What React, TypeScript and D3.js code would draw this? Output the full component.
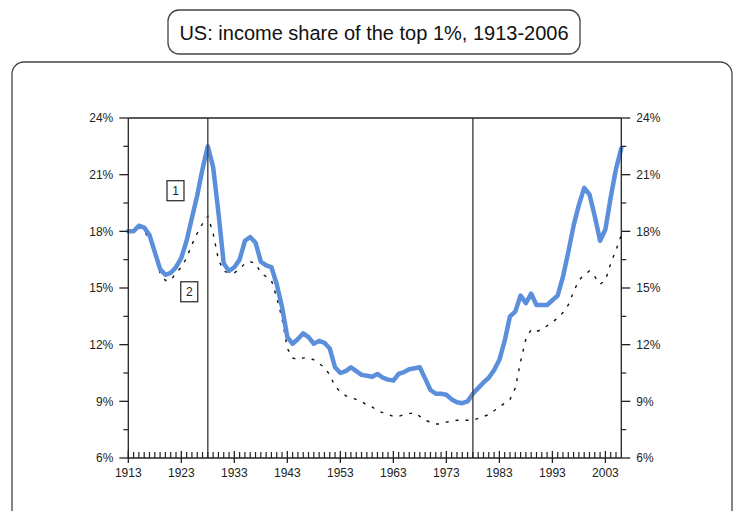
import React from "react";
import * as d3 from "d3";

const years: number[] = [
  1913, 1914, 1915, 1916, 1917, 1918, 1919, 1920, 1921, 1922,
  1923, 1924, 1925, 1926, 1927, 1928, 1929, 1930, 1931, 1932,
  1933, 1934, 1935, 1936, 1937, 1938, 1939, 1940, 1941, 1942,
  1943, 1944, 1945, 1946, 1947, 1948, 1949, 1950, 1951, 1952,
  1953, 1954, 1955, 1956, 1957, 1958, 1959, 1960, 1961, 1962,
  1963, 1964, 1965, 1966, 1967, 1968, 1969, 1970, 1971, 1972,
  1973, 1974, 1975, 1976, 1977, 1978, 1979, 1980, 1981, 1982,
  1983, 1984, 1985, 1986, 1987, 1988, 1989, 1990, 1991, 1992,
  1993, 1994, 1995, 1996, 1997, 1998, 1999, 2000, 2001, 2002,
  2003, 2004, 2005, 2006,
];

// Series 1: top 1% share including capital gains (%)
const shareInclGains: number[] = [
  18.0, 18.0, 18.3, 18.2, 17.8, 16.9, 16.0, 15.7, 15.8, 16.1,
  16.6, 17.5, 18.7, 19.9, 21.3, 22.5, 21.4, 19.0, 16.3, 15.9,
  16.1, 16.5, 17.5, 17.7, 17.4, 16.4, 16.2, 16.1, 15.2, 14.0,
  12.4, 12.05, 12.3, 12.6, 12.4, 12.05, 12.2, 12.1, 11.8, 10.8,
  10.5, 10.6, 10.8, 10.6, 10.4, 10.35, 10.3, 10.45, 10.25, 10.15,
  10.1, 10.45, 10.55, 10.7, 10.75, 10.8, 10.2, 9.6, 9.4, 9.4,
  9.35, 9.1, 8.95, 8.9, 9.0, 9.4, 9.7, 10.0, 10.25, 10.65,
  11.2, 12.2, 13.5, 13.75, 14.6, 14.2, 14.7, 14.1, 14.1, 14.1,
  14.35, 14.6, 15.6, 16.9, 18.3, 19.4, 20.3, 19.95, 18.8, 17.5,
  18.1, 19.8, 21.3, 22.4,
];

// Series 2: top 1% share excluding capital gains (%)
const shareExclGains: number[] = [
  18.0, 18.1, 18.2, 18.0, 17.6, 16.8, 15.8, 15.4, 15.4, 15.8,
  16.1, 16.6, 17.3, 17.9, 18.4, 18.8, 17.9, 16.5, 15.9, 15.8,
  15.8, 16.0, 16.3, 16.4, 16.3, 15.8, 15.6, 15.4, 14.5, 13.4,
  11.8, 11.3, 11.2, 11.3, 11.3, 11.2, 11.0, 10.8, 10.4, 9.8,
  9.5, 9.3, 9.2, 9.1, 9.0, 8.8, 8.7, 8.5, 8.4, 8.3,
  8.2, 8.2, 8.3, 8.35, 8.4, 8.2, 8.0, 7.9, 7.8, 7.8,
  7.9, 7.95, 8.0, 8.0, 8.0, 8.0, 8.1, 8.2, 8.3, 8.5,
  8.7, 8.9, 9.1, 9.7, 11.1, 12.3, 12.8, 12.7, 12.8, 13.0,
  13.2, 13.4, 13.7, 14.1, 14.8, 15.4, 15.7, 15.9, 15.6, 15.2,
  15.4, 16.3, 17.0, 17.8,
];

const titleText = "US: income share of the top 1%, 1913-2006";
const yMajorTicks: number[] = [6, 9, 12, 15, 18, 21, 24];
const yMinorTicks: number[] = [7.5, 10.5, 13.5, 16.5, 19.5, 22.5];
const xMajorTicks: number[] = [1913, 1923, 1933, 1943, 1953, 1963, 1973, 1983, 1993, 2003];
const markerYears: number[] = [1928, 1978];
const seriesLabels = [
  { text: "1", year: 1921.9, value: 20.15 },
  { text: "2", year: 1924.5, value: 14.8 },
];

const W = 735;
const H = 511;
const FONT = "'Liberation Sans', Arial, Helvetica, sans-serif";

export default function App() {
  const x = d3.scaleLinear().domain([1913, 2006]).range([128.3, 621.3]);
  const y = d3.scaleLinear().domain([6, 24]).range([458, 118]);
  const [x0, x1] = x.range();
  const yTop = y(24);
  const yBot = y(6);

  const line1 = d3
    .line<number>()
    .x((_, i) => x(years[i]))
    .y((d) => y(d))
    .curve(d3.curveLinear)(shareInclGains) as string;
  const line2 = d3
    .line<number>()
    .x((_, i) => x(years[i]))
    .y((d) => y(d))
    .curve(d3.curveLinear)(shareExclGains) as string;

  const axisColor = "#222";
  const major = 9;
  const minor = 5;

  return (
    <svg
      width={W}
      height={H}
      style={{ position: "absolute", left: 0, top: 0, background: "#fff" }}
      fontFamily={FONT}
    >
      {/* title box */}
      <rect x={168} y={10} width={412} height={44} rx={11} ry={11} fill="#fff" stroke="#444" strokeWidth={1.3} />
      <text x={374} y={40} textAnchor="middle" fontSize={20} fill="#111">
        {titleText}
      </text>

      {/* outer frame */}
      <rect x={12} y={62} width={720} height={470} rx={12} ry={12} fill="none" stroke="#444" strokeWidth={1.3} />

      {/* data lines */}
      <path d={line2} fill="none" stroke="#111" strokeWidth={1.4} strokeDasharray="3,7" />
      <path d={line1} fill="none" stroke="#5c8fdb" strokeWidth={4.5} strokeLinejoin="round" strokeLinecap="round" />

      {/* vertical marker lines */}
      {markerYears.map((yr) => (
        <line key={yr} x1={x(yr)} x2={x(yr)} y1={yTop} y2={yBot} stroke="#444" strokeWidth={1.4} />
      ))}

      {/* frame: top line, left & right axes, bottom axis */}
      <line x1={x0} x2={x1} y1={yTop} y2={yTop} stroke={axisColor} strokeWidth={1.3} />
      <line x1={x0} x2={x0} y1={yTop} y2={yBot} stroke={axisColor} strokeWidth={1.3} />
      <line x1={x1} x2={x1} y1={yTop} y2={yBot} stroke={axisColor} strokeWidth={1.3} />
      <line x1={x0} x2={x1} y1={yBot} y2={yBot} stroke={axisColor} strokeWidth={1.3} />

      {/* y ticks */}
      {yMajorTicks.map((v) => (
        <g key={"ym" + v}>
          <line x1={x0 - major} x2={x0} y1={y(v)} y2={y(v)} stroke={axisColor} strokeWidth={1.3} />
          <line x1={x1} x2={x1 + major} y1={y(v)} y2={y(v)} stroke={axisColor} strokeWidth={1.3} />
          <text x={x0 - 15} y={y(v)} dy="0.35em" textAnchor="end" fontSize={12} fill="#222">
            {v + "%"}
          </text>
          <text x={x1 + 15} y={y(v)} dy="0.35em" textAnchor="start" fontSize={12} fill="#222">
            {v + "%"}
          </text>
        </g>
      ))}
      {yMinorTicks.map((v) => (
        <g key={"yn" + v}>
          <line x1={x0 - minor} x2={x0} y1={y(v)} y2={y(v)} stroke={axisColor} strokeWidth={1.2} />
          <line x1={x1} x2={x1 + minor} y1={y(v)} y2={y(v)} stroke={axisColor} strokeWidth={1.2} />
        </g>
      ))}

      {/* x ticks */}
      {years
        .filter((yr) => yr > 1913 && yr < 2006 && !xMajorTicks.includes(yr))
        .map((yr) => (
          <line key={"xn" + yr} x1={x(yr)} x2={x(yr)} y1={yBot - 6} y2={yBot} stroke={axisColor} strokeWidth={1.2} />
        ))}
      {xMajorTicks.map((yr) => (
        <g key={"xm" + yr}>
          <line x1={x(yr)} x2={x(yr)} y1={yBot - 7} y2={yBot + 5} stroke={axisColor} strokeWidth={1.3} />
          <text x={x(yr)} y={yBot + 19} textAnchor="middle" fontSize={12} fill="#222">
            {yr}
          </text>
        </g>
      ))}

      {/* series labels */}
      {seriesLabels.map((s) => (
        <g key={s.text}>
          <rect
            x={x(s.year) - 8.5}
            y={y(s.value) - 10}
            width={17}
            height={20}
            fill="#fff"
            stroke="#222"
            strokeWidth={1.2}
          />
          <text x={x(s.year)} y={y(s.value)} dy="0.36em" textAnchor="middle" fontSize={12} fill="#222">
            {s.text}
          </text>
        </g>
      ))}
    </svg>
  );
}
